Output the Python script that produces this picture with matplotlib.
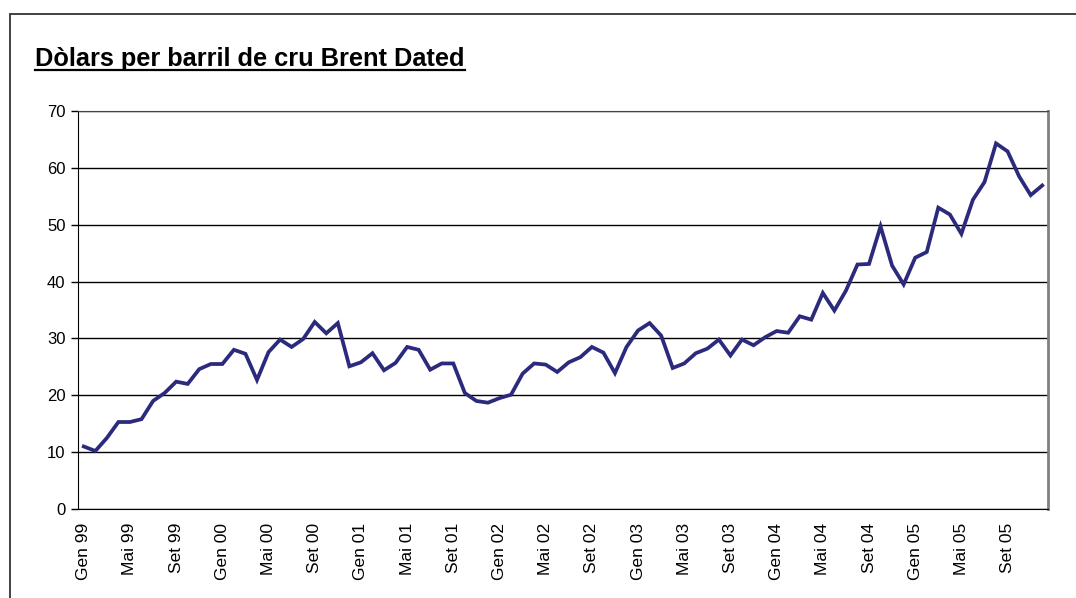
import numpy as np
import matplotlib.pyplot as plt
from matplotlib.patches import Rectangle
from matplotlib.lines import Line2D

plt.rcParams['font.family'] = ['Liberation Sans', 'DejaVu Sans']

# monthly Brent Dated price, Gen 99 .. Des 05
mesos = ['Gen', 'Feb', 'Mar', 'Abr', 'Mai', 'Jun', 'Jul', 'Ago', 'Set', 'Oct', 'Nov', 'Des']
anys = ['99', '00', '01', '02', '03', '04', '05']
preus = [11.0, 10.2, 12.5, 15.3, 15.3, 15.8, 19.0, 20.4, 22.4, 22.0, 24.6, 25.5,
         25.5, 28.0, 27.3, 22.7, 27.6, 29.8, 28.5, 29.9, 32.9, 30.9, 32.7, 25.1,
         25.8, 27.4, 24.4, 25.7, 28.5, 28.0, 24.5, 25.6, 25.6, 20.4, 19.0, 18.7,
         19.5, 20.1, 23.8, 25.6, 25.4, 24.1, 25.8, 26.7, 28.5, 27.5, 23.9, 28.5,
         31.4, 32.7, 30.5, 24.8, 25.6, 27.4, 28.2, 29.8, 27.0, 29.8, 28.8, 30.2,
         31.3, 31.0, 33.9, 33.3, 38.0, 34.9, 38.4, 43.0, 43.1, 49.7, 42.8, 39.5,
         44.2, 45.2, 53.0, 51.8, 48.4, 54.4, 57.5, 64.3, 62.9, 58.5, 55.2, 56.9]

etiquetes = [m + ' ' + a for a in anys for m in mesos]
x = np.arange(len(preus))

fig = plt.figure(figsize=(10.76, 5.98), dpi=100)
ax = fig.add_axes([78/1076, 1 - 509/598, 970/1076, 398/598])

ax.plot(x, preus, color='#2B2A7C', lw=2.7, solid_joinstyle='miter', zorder=3)

ax.set_xlim(-0.5, len(preus) - 0.5)
ax.set_ylim(0, 70)
ax.set_yticks(range(0, 71, 10))
ax.yaxis.grid(True, color='black', lw=1.0)
ax.set_axisbelow(True)

ax.set_xticks(x[::4])
ax.set_xticklabels(etiquetes[::4], rotation=90, fontsize=12.5)
ax.tick_params(axis='x', length=0, pad=10)
ax.tick_params(axis='y', length=5, width=1, pad=4, labelsize=12, direction='out')

ax.spines['left'].set_color('black')
ax.spines['bottom'].set_color('black')
ax.spines['top'].set_color('#444444')
ax.spines['right'].set_color('#808080')
ax.spines['right'].set_linewidth(2)

# outer chart frame
fig.patches.append(Rectangle((10/1076, -0.1), 1.2, 1 - 14/598 + 0.1,
                             transform=fig.transFigure, fill=False,
                             edgecolor='#333333', lw=1.3))

titol = fig.text(35/1076, 1 - 66/598, 'Dòlars per barril de cru Brent Dated',
                 fontsize=18.3, fontweight='bold', ha='left', va='baseline')
fig.canvas.draw()
bb = titol.get_window_extent().transformed(fig.transFigure.inverted())
fig.add_artist(Line2D([bb.x0, bb.x1], [1 - 69.5/598, 1 - 69.5/598],
                      transform=fig.transFigure, color='black', lw=1.6))

fig.savefig('out.png', dpi=100)
